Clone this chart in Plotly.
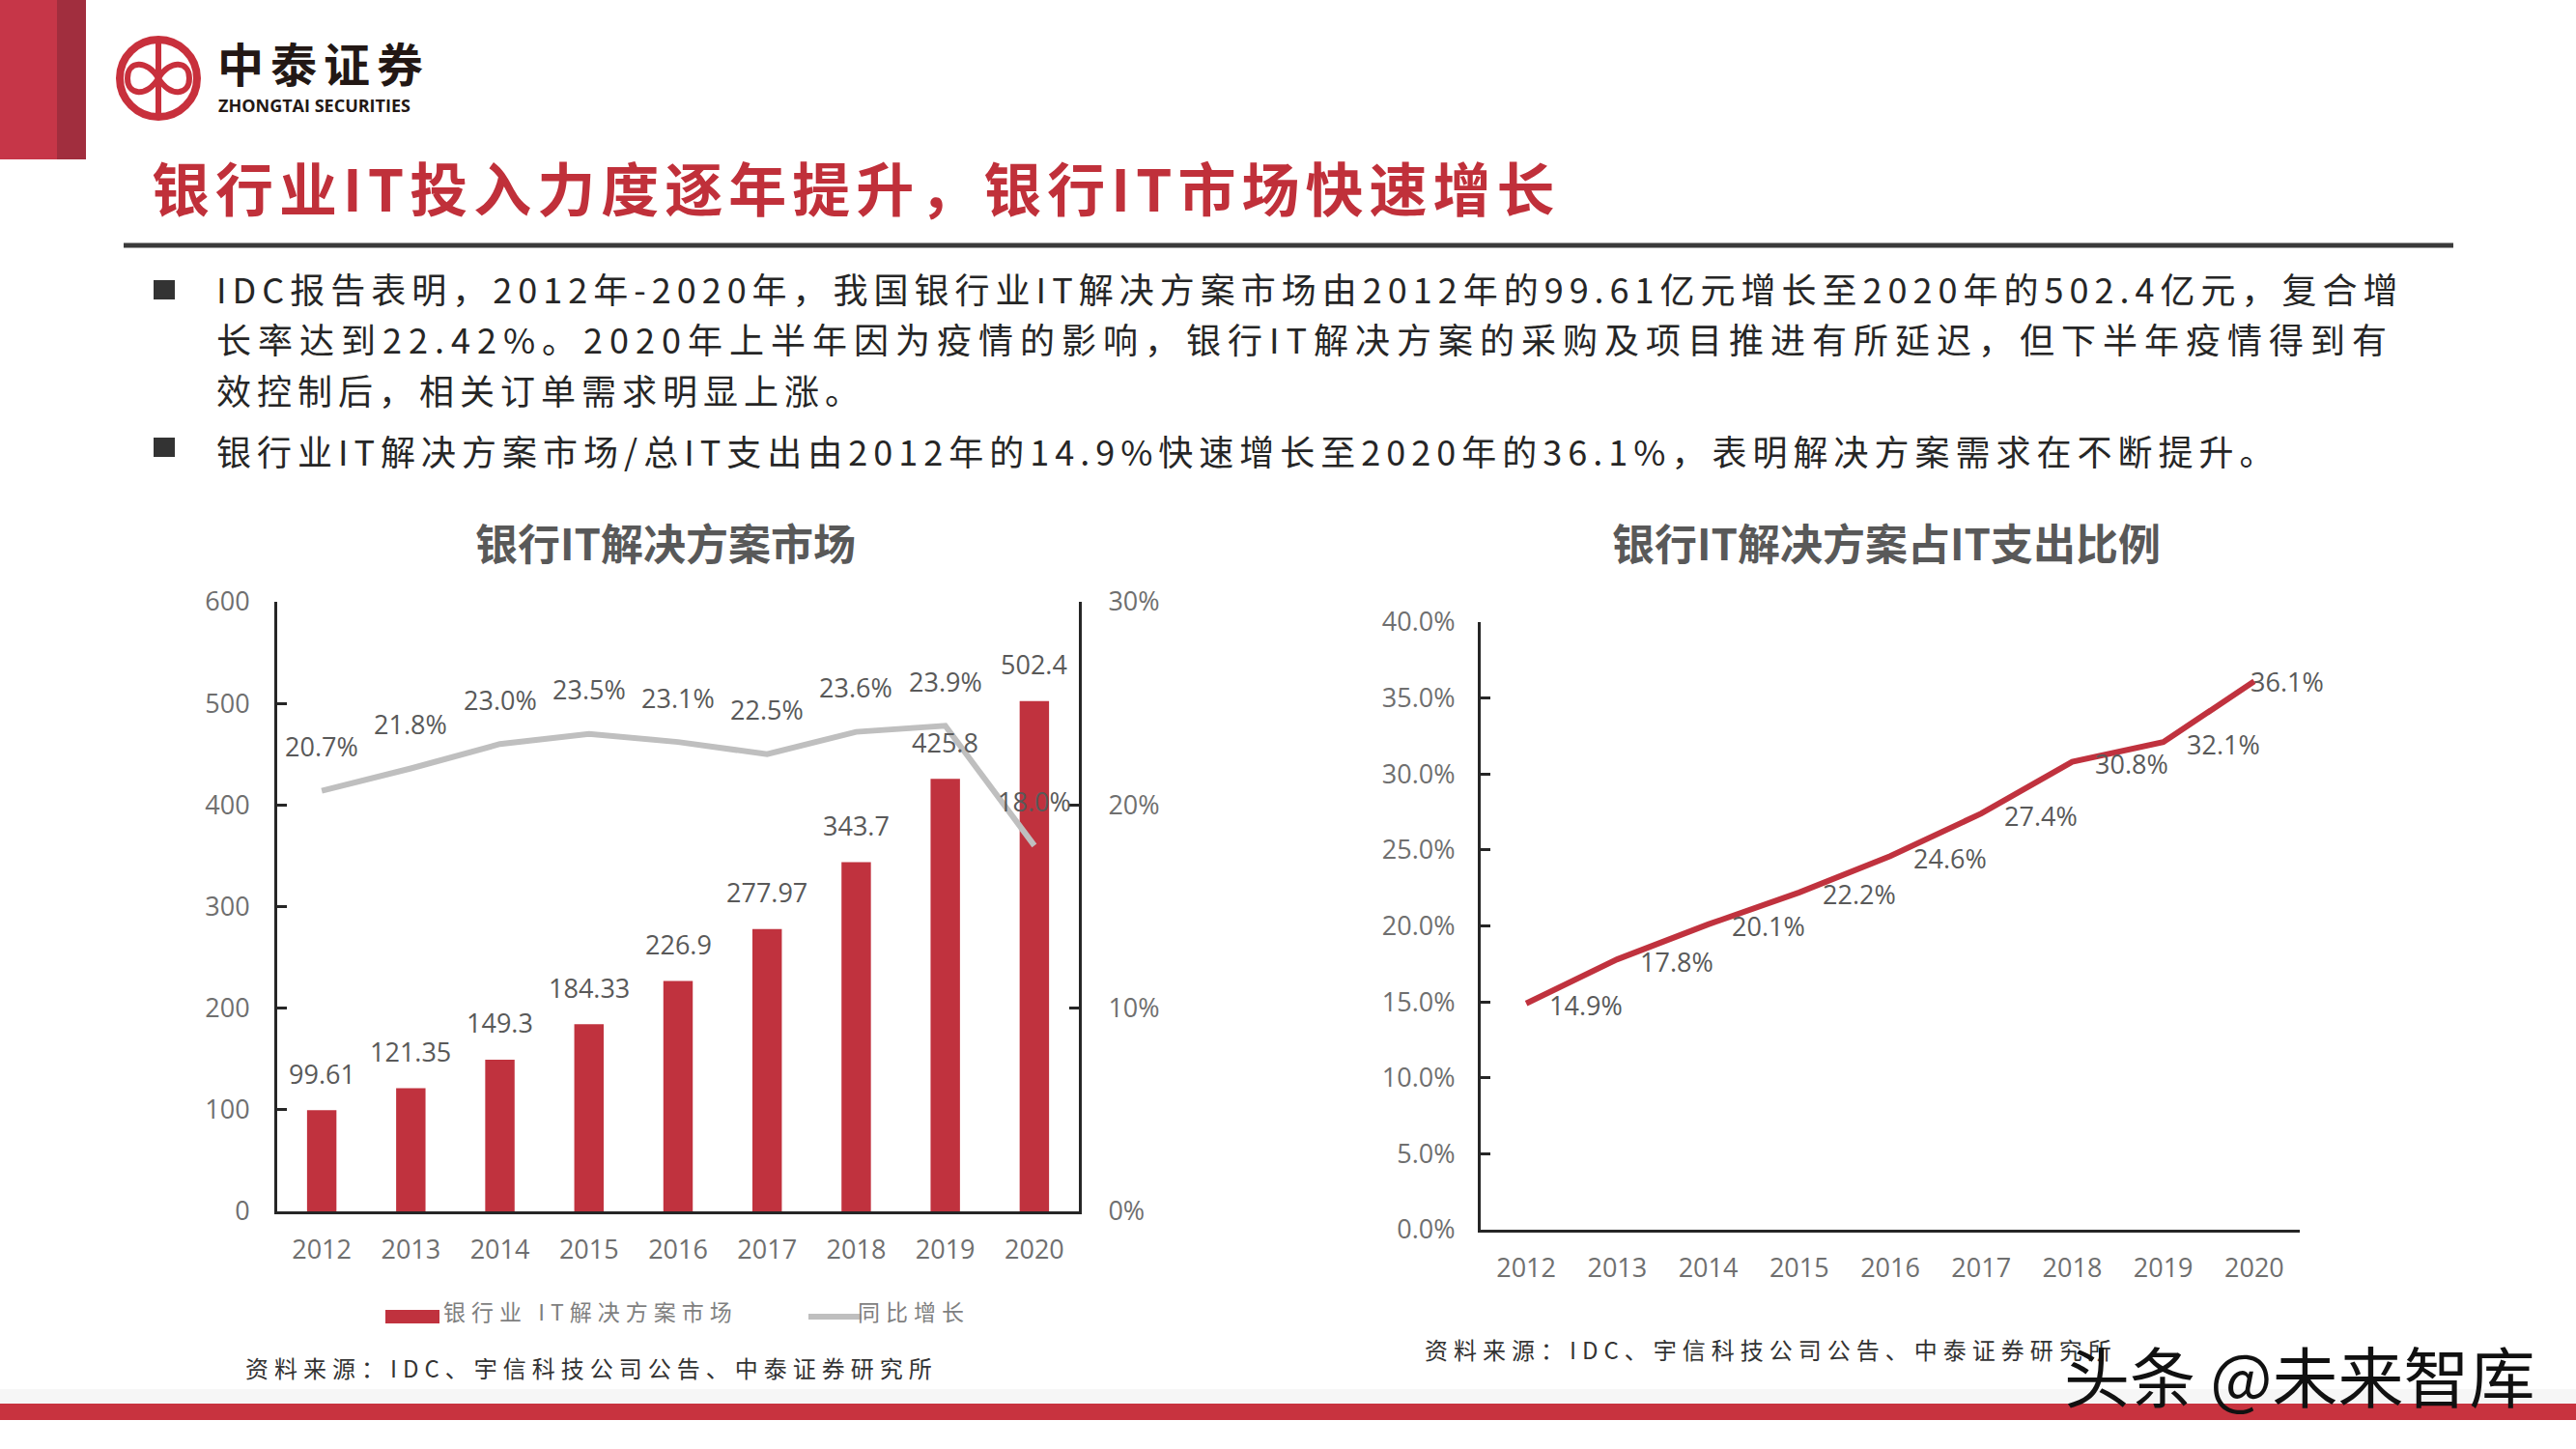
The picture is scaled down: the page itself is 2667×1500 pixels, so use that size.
import plotly.graph_objects as go

W, H = 2667, 1500

# ---------------- data ----------------
years = ["2012", "2013", "2014", "2015", "2016", "2017", "2018", "2019", "2020"]
market = [99.61, 121.35, 149.3, 184.33, 226.9, 277.97, 343.7, 425.8, 502.4]
growth = [0.207, 0.218, 0.230, 0.235, 0.231, 0.225, 0.236, 0.239, 0.180]
share = [0.149, 0.178, 0.201, 0.222, 0.246, 0.274, 0.308, 0.321, 0.361]

title_main = "银行业IT投入力度逐年提升，银行IT市场快速增长"
bullet1_lines = [
    "IDC报告表明，2012年-2020年，我国银行业IT解决方案市场由2012年的99.61亿元增长至2020年的502.4亿元，复合增",
    "长率达到22.42%。2020年上半年因为疫情的影响，银行IT解决方案的采购及项目推进有所延迟，但下半年疫情得到有",
    "效控制后，相关订单需求明显上涨。",
]
bullet2 = "银行业IT解决方案市场/总IT支出由2012年的14.9%快速增长至2020年的36.1%，表明解决方案需求在不断提升。"
chart1_title = "银行IT解决方案市场"
chart2_title = "银行IT解决方案占IT支出比例"
legend_bar = "银行业 IT解决方案市场"
legend_line = "同比增长"
source_text = "资料来源：IDC、宇信科技公司公告、中泰证券研究所"
watermark = "头条 @未来智库"

# ---------------- styles ----------------
RED = "#C0323E"
GRAY_LINE = "#BFBFBF"
AX = "#262626"
TICK_C = "#6f6f6f"
LBL_C = "#595959"
CJK = "Noto Sans CJK SC"
NUM = "Open Sans, Noto Sans CJK SC"

pos = list(range(len(years)))  # category slots


def px(x):
    return x / W


def py(y):
    return 1 - y / H


def ls(text, sp):
    return f'<span style="letter-spacing:{sp}px">{text}</span>'


fig = go.Figure()

fig.add_trace(go.Bar(x=pos, y=market, width=0.33, marker=dict(color=RED, line=dict(width=0)),
                     xaxis="x", yaxis="y", hoverinfo="skip"))
fig.add_trace(go.Scatter(x=pos, y=growth, mode="lines", line=dict(color=GRAY_LINE, width=6),
                         xaxis="x", yaxis="y2", hoverinfo="skip"))
fig.add_trace(go.Scatter(x=pos, y=share, mode="lines", line=dict(color=RED, width=6),
                         xaxis="x2", yaxis="y3", hoverinfo="skip"))

ann = []
# bar labels
for p, v in zip(pos, market):
    ann.append(dict(x=p, y=v, xref="x", yref="y", text=str(v), showarrow=False, xanchor="center",
                    yanchor="middle", yshift=38, font=dict(family=NUM, size=27, color=LBL_C)))
# growth labels
for p, v in zip(pos, growth):
    ann.append(dict(x=p, y=v, xref="x", yref="y2", text=f"{v*100:.1f}%", showarrow=False, xanchor="center",
                    yanchor="middle", yshift=46, font=dict(family=NUM, size=27, color=LBL_C)))
# share labels
for p, v in zip(pos, share):
    last = p == pos[-1]
    ann.append(dict(x=p, y=v, xref="x2", yref="y3", text=f"{v*100:.1f}%", showarrow=False,
                    xanchor="left", yanchor="middle", xshift=-6 if last else 22, yshift=0 if last else -2,
                    font=dict(family=NUM, size=27, color=LBL_C)))

# header texts
ann.append(dict(x=px(223), y=py(64), xref="paper", yref="paper", text=ls("<b>中泰证券</b>", 7),
                xanchor="left", yanchor="middle", showarrow=False,
                font=dict(family=CJK, size=48, color="#231815")))
ann.append(dict(x=px(224), y=py(109), xref="paper", yref="paper", text="<b>ZHONGTAI SECURITIES</b>",
                xanchor="left", yanchor="middle", showarrow=False,
                font=dict(family="Open Sans", size=18, color="#231815")))
ann.append(dict(x=px(155), y=py(192), xref="paper", yref="paper", text=ls("<b>" + title_main + "</b>", 6),
                xanchor="left", yanchor="middle", showarrow=False,
                font=dict(family=CJK, size=60, color="#C0303A")))

# body text
body_y = [298, 350, 403]
body_sp = [6.0, 7.0, 6.0]
for t, yy, sp in zip(bullet1_lines, body_y, body_sp):
    ann.append(dict(x=px(222), y=py(yy), xref="paper", yref="paper", text=ls(t, sp),
                    xanchor="left", yanchor="middle", showarrow=False,
                    font=dict(family=CJK, size=36, color="#262626")))
ann.append(dict(x=px(222), y=py(466), xref="paper", yref="paper", text=ls(bullet2, 6.0),
                xanchor="left", yanchor="middle", showarrow=False,
                font=dict(family=CJK, size=36, color="#262626")))

# chart titles
ann.append(dict(x=px(689), y=py(561), xref="paper", yref="paper", text="<b>" + chart1_title + "</b>",
                xanchor="center", yanchor="middle", showarrow=False,
                font=dict(family=CJK, size=44, color=LBL_C)))
ann.append(dict(x=px(1953), y=py(561), xref="paper", yref="paper", text="<b>" + chart2_title + "</b>",
                xanchor="center", yanchor="middle", showarrow=False,
                font=dict(family=CJK, size=44, color=LBL_C)))

# legend texts
ann.append(dict(x=px(457), y=py(1357), xref="paper", yref="paper", text=ls(legend_bar, 6),
                xanchor="left", yanchor="middle", showarrow=False,
                font=dict(family=CJK, size=23, color="#7f7f7f")))
ann.append(dict(x=px(886), y=py(1357), xref="paper", yref="paper", text=ls(legend_line, 6),
                xanchor="left", yanchor="middle", showarrow=False,
                font=dict(family=CJK, size=23, color="#7f7f7f")))

# sources
ann.append(dict(x=px(252), y=py(1415), xref="paper", yref="paper", text=ls(source_text, 6),
                xanchor="left", yanchor="middle", showarrow=False,
                font=dict(family=CJK, size=24, color="#333333")))
ann.append(dict(x=px(1473), y=py(1396), xref="paper", yref="paper", text=ls(source_text, 6),
                xanchor="left", yanchor="middle", showarrow=False,
                font=dict(family=CJK, size=24, color="#333333")))

# watermark
ann.append(dict(x=px(2381), y=py(1422), xref="paper", yref="paper", text=watermark,
                xanchor="center", yanchor="middle", showarrow=False,
                font=dict(family=CJK, size=68, color="#111111")))

shapes = []
# top-left red block
shapes.append(dict(type="rect", xref="paper", yref="paper", x0=px(0), x1=px(59), y0=py(165), y1=py(0),
                   fillcolor="#C63648", line=dict(width=0), layer="below"))
shapes.append(dict(type="rect", xref="paper", yref="paper", x0=px(59), x1=px(89), y0=py(165), y1=py(0),
                   fillcolor="#A12E3E", line=dict(width=0), layer="below"))
# logo
cx, cy, r = 164, 81, 40
shapes.append(dict(type="circle", xref="paper", yref="paper", x0=px(cx - r), x1=px(cx + r),
                   y0=py(cy + r), y1=py(cy - r), line=dict(color="#C8303C", width=8)))


def P(x, y):
    return f"{px(x):.5f},{py(y):.5f}"


inf_path = (f"M {P(cx, cy)} C {P(cx-12, cy-20)} {P(cx-32, cy-18)} {P(cx-32, cy)} "
            f"C {P(cx-32, cy+18)} {P(cx-12, cy+20)} {P(cx, cy)} "
            f"C {P(cx+12, cy-20)} {P(cx+32, cy-18)} {P(cx+32, cy)} "
            f"C {P(cx+32, cy+18)} {P(cx+12, cy+20)} {P(cx, cy)} Z")
shapes.append(dict(type="path", xref="paper", yref="paper", path=inf_path,
                   line=dict(color="#C8303C", width=6)))
shapes.append(dict(type="line", xref="paper", yref="paper", x0=px(cx), x1=px(cx), y0=py(cy - r + 4),
                   y1=py(cy + r - 4), line=dict(color="#C8303C", width=6)))
# divider line
shapes.append(dict(type="line", xref="paper", yref="paper", x0=px(128), x1=px(2540), y0=py(254), y1=py(254),
                   line=dict(color="#3a3a3a", width=5)))
# bullets
for yy in [300, 463]:
    shapes.append(dict(type="rect", xref="paper", yref="paper", x0=px(159), x1=px(181), y0=py(yy + 10),
                       y1=py(yy - 10), fillcolor="#333333", line=dict(width=0)))
# legend symbols
shapes.append(dict(type="rect", xref="paper", yref="paper", x0=px(399), x1=px(455), y0=py(1370), y1=py(1356),
                   fillcolor=RED, line=dict(width=0)))
shapes.append(dict(type="line", xref="paper", yref="paper", x0=px(837), x1=px(892), y0=py(1363), y1=py(1363),
                   line=dict(color=GRAY_LINE, width=6)))
# bottom band
shapes.append(dict(type="rect", xref="paper", yref="paper", x0=0, x1=1, y0=py(1453), y1=py(1438),
                   fillcolor="#f6f6f6", line=dict(width=0), layer="below"))
shapes.append(dict(type="rect", xref="paper", yref="paper", x0=0, x1=1, y0=py(1470), y1=py(1453),
                   fillcolor="#C8333F", line=dict(width=0), layer="below"))

tickfont = dict(family=NUM, size=27, color=TICK_C)
yaxis_common = dict(showline=True, linecolor=AX, linewidth=3, ticks="inside", ticklen=10, tickwidth=3,
                    tickcolor=AX, showgrid=False, zeroline=False, tickfont=tickfont, automargin=False)
xaxis_common = dict(type="linear", range=[-0.5, len(years) - 0.5], tickmode="array", tickvals=pos,
                    ticktext=years, showline=True, linecolor=AX, linewidth=3, ticks="", showgrid=False,
                    zeroline=False, tickfont=tickfont, automargin=False, ticklabelstandoff=14)

fig.update_layout(
    width=W, height=H, autosize=False, margin=dict(l=0, r=0, t=0, b=0, pad=0, autoexpand=False),
    paper_bgcolor="white", plot_bgcolor="white", showlegend=False,
    xaxis=dict(domain=[px(287), px(1117)], anchor="y", **xaxis_common),
    yaxis=dict(domain=[py(1254), py(623)], anchor="x", range=[0, 600], dtick=100,
               ticklabelstandoff=20, **yaxis_common),
    yaxis2=dict(overlaying="y", side="right", anchor="x", range=[0, 0.30], dtick=0.10, tickformat=".0%",
                ticklabelstandoff=22, **yaxis_common),
    xaxis2=dict(domain=[px(1533), px(2381)], anchor="y3", **xaxis_common),
    yaxis3=dict(domain=[py(1273), py(644)], anchor="x2", range=[0, 0.40], dtick=0.05, tickformat=".1%",
                ticklabelstandoff=18, **yaxis_common),
    annotations=ann,
    shapes=shapes,
)

fig.write_html("out.html", config={"displayModeBar": False},
               post_script="document.body.style.margin='0px';document.documentElement.style.margin='0px';"
                           "document.body.style.overflow='hidden';")
